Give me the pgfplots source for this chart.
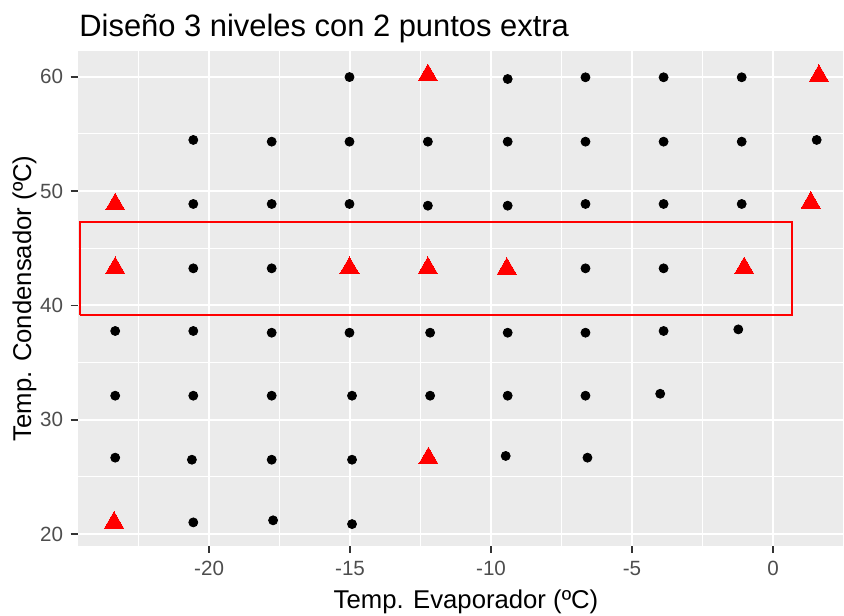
\documentclass[border=0pt]{standalone}
\usepackage{pgfplots}
\pgfplotsset{compat=1.18}
\usepackage{fontspec}
\setmainfont{Liberation Sans}
\definecolor{panelbg}{HTML}{EBEBEB}
\definecolor{ticktext}{HTML}{4D4D4D}
\definecolor{tickcol}{HTML}{333333}
\begin{document}
\begin{tikzpicture}
\begin{axis}[
    at={(38.85pt,34.65pt)}, anchor=south west,
    scale only axis,
    width=388.8pt, height=247.35pt,
    xmin=-24.66, xmax=2.92,
    ymin=18.98, ymax=62.25,
    axis background/.style={fill=panelbg},
    axis line style={draw=none},
    xtick={-20,-15,-10,-5,0},
    xticklabels={-20,-15,-10,-5,0},
    ytick={20,30,40,50,60},
    yticklabels={20,30,40,50,60},
    minor xtick={-22.5,-17.5,-12.5,-7.5,-2.5,2.5},
    minor ytick={25,35,45,55},
    grid=both,
    major grid style={white, line width=1pt},
    minor grid style={white, line width=0.6pt},
    xtick pos=bottom, ytick pos=left,
    tick align=outside,
    major tick length=3.5pt,
    minor tick length=0pt,
    tick style={tickcol, line width=0.8pt},
    ticklabel style={font=\fontsize{10.3}{12}\selectfont, text=ticktext},
    xticklabel style={anchor=north, inner sep=0pt, yshift=-4.2pt},
    yticklabel style={anchor=east, inner sep=0pt, xshift=-3.6pt},
]
% zona marcada
\addplot[red, line width=1.1pt, line join=miter, mark=none] coordinates {
(-24.57,39.19) (0.68,39.19) (0.68,47.32) (-24.57,47.32) (-24.57,39.19)
};
% puntos del diseño
\addplot[black, only marks, mark=*, mark size=2.25pt, mark options={fill=black, draw=none}] coordinates {
(-15.02,59.97) (-9.41,59.80) (-6.65,59.95) (-3.88,59.95) (-1.11,59.95)
(-20.56,54.47) (-17.78,54.32) (-15.02,54.32) (-12.24,54.32) (-9.41,54.32) (-6.65,54.32) (-3.88,54.32) (-1.11,54.32) (1.55,54.47)
(-20.56,48.87) (-17.78,48.87) (-15.02,48.87) (-12.24,48.72) (-9.41,48.72) (-6.65,48.87) (-3.88,48.87) (-1.11,48.87)
(-20.56,43.24) (-17.78,43.24) (-6.65,43.24) (-3.88,43.24)
(-23.33,37.76) (-20.56,37.76) (-17.78,37.61) (-15.02,37.61) (-12.16,37.61) (-9.41,37.61) (-6.65,37.61) (-3.88,37.76) (-1.23,37.90)
(-23.33,32.10) (-20.56,32.10) (-17.78,32.10) (-14.93,32.10) (-12.16,32.10) (-9.41,32.10) (-6.65,32.10) (-4.00,32.27)
(-23.33,26.68) (-20.61,26.50) (-17.78,26.50) (-14.93,26.50) (-9.48,26.83) (-6.58,26.68)
(-20.56,21.02) (-17.73,21.20) (-14.93,20.87)
};
% puntos extra
\addplot[red, only marks, mark=triangle*, mark size=5.5pt, mark options={fill=red, draw=red, line width=0pt}] coordinates {
(-12.24,60.14) (1.63,60.08)
(-23.33,48.84) (1.34,48.99)
(-23.33,43.27) (-15.02,43.27) (-12.24,43.27) (-9.44,43.20) (-1.02,43.26)
(-12.22,26.63)
(-23.37,21.00)
};
\end{axis}
\node[anchor=base west, inner sep=0pt, font=\fontsize{15.45}{18}\selectfont] at (39.5pt,289.25pt) {Diseño 3 niveles con 2 puntos extra};
\node[anchor=base, inner sep=0pt, font=\fontsize{12.85}{15}\selectfont] at (233pt,3.5pt) {Temp. Evaporador (ºC)};
\node[anchor=base, inner sep=0pt, rotate=90, font=\fontsize{12.85}{15}\selectfont] at (15.6pt,158.3pt) {Temp. Condensador (ºC)};
\pgfresetboundingbox
\useasboundingbox (0pt,0pt) rectangle (422pt,307.5pt);
\end{tikzpicture}
\end{document}
